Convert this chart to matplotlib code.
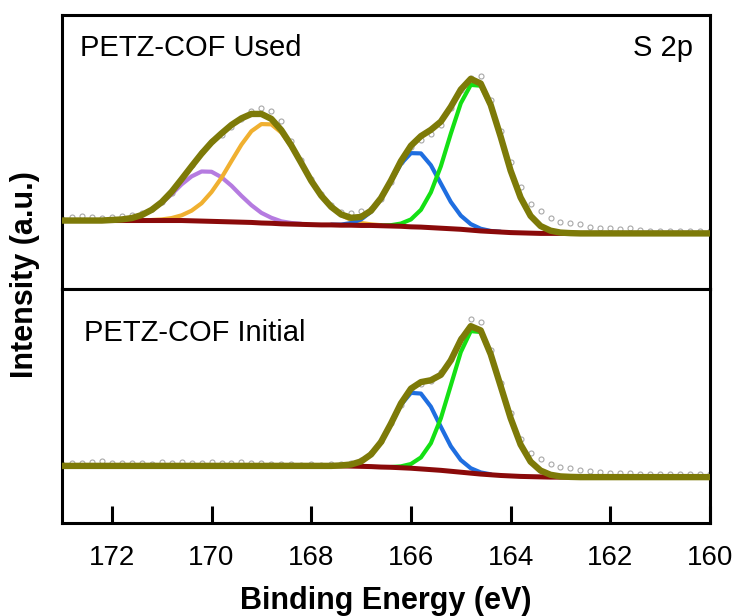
import numpy as np
import matplotlib
matplotlib.use("Agg")
import matplotlib.pyplot as plt

plt.rcParams['font.family'] = ['Liberation Sans', 'DejaVu Sans']

# energy grid of the scans (eV), 0.2 eV step
energy = np.linspace(173.0, 160.0, 66)

# ---- PETZ-COF Used ----
used_raw = [0.255, 0.262, 0.266, 0.262, 0.260, 0.263, 0.266, 0.270, 0.276, 0.293,
            0.318, 0.352, 0.398, 0.452, 0.500, 0.540, 0.562, 0.590, 0.622, 0.648,
            0.662, 0.650, 0.612, 0.540, 0.470, 0.400, 0.345, 0.305, 0.282, 0.278,
            0.285, 0.292, 0.330, 0.392, 0.462, 0.518, 0.545, 0.565, 0.600, 0.660,
            0.725, 0.772, 0.776, 0.690, 0.575, 0.462, 0.372, 0.312, 0.284, 0.258,
            0.244, 0.240, 0.236, 0.226, 0.222, 0.222, 0.220, 0.221, 0.214, 0.212,
            0.213, 0.210, 0.212, 0.211, 0.213, 0.212]
used_bg = ([0.250] * 13 +
           [0.249, 0.248, 0.247, 0.246, 0.245, 0.244, 0.243, 0.241, 0.240, 0.238,
            0.237, 0.236, 0.235, 0.234, 0.234, 0.233, 0.233, 0.232, 0.232, 0.231,
            0.230, 0.229, 0.227, 0.226, 0.224, 0.222, 0.220, 0.218, 0.215, 0.212,
            0.210, 0.208, 0.206, 0.205, 0.204, 0.203] +
           [0.203] * 17)
used_env = ([0.250, 0.250, 0.250, 0.250, 0.250, 0.252, 0.254, 0.259, 0.270, 0.289,
             0.317, 0.355, 0.401, 0.448, 0.494, 0.535, 0.568, 0.599, 0.623, 0.639,
             0.639, 0.621, 0.580, 0.524, 0.460, 0.395, 0.341, 0.300, 0.272, 0.260,
             0.263, 0.286, 0.332, 0.396, 0.467, 0.523, 0.558, 0.581, 0.611, 0.665,
             0.728, 0.767, 0.750, 0.672, 0.556, 0.432, 0.334, 0.267, 0.230, 0.213,
             0.206, 0.204] +
            [0.203] * 14)

used_purple_e = np.linspace(172.0, 168.2, 20)
used_purple = [0.252, 0.254, 0.259, 0.270, 0.287, 0.313, 0.346, 0.382, 0.411, 0.429,
               0.428, 0.408, 0.377, 0.340, 0.306, 0.278, 0.260, 0.247, 0.241, 0.238]
used_orange_e = np.linspace(171.2, 166.6, 24)
used_orange = [0.252, 0.254, 0.259, 0.269, 0.286, 0.313, 0.354, 0.406, 0.467, 0.527,
               0.576, 0.602, 0.601, 0.571, 0.520, 0.458, 0.395, 0.341, 0.299, 0.270,
               0.252, 0.241, 0.236, 0.233]
used_blue_e = np.linspace(167.6, 164.2, 18)
used_blue = [0.235, 0.235, 0.241, 0.254, 0.282, 0.329, 0.393, 0.457, 0.496, 0.495,
             0.452, 0.385, 0.318, 0.268, 0.237, 0.220, 0.212, 0.209]
used_green_e = np.linspace(166.6, 162.8, 20)
used_green = [0.232, 0.233, 0.239, 0.254, 0.289, 0.353, 0.448, 0.567, 0.678, 0.745,
              0.742, 0.670, 0.555, 0.432, 0.334, 0.267, 0.230, 0.213, 0.206, 0.204]

# ---- PETZ-COF Initial ----
init_raw = [0.250, 0.256, 0.258, 0.262, 0.265, 0.258, 0.256, 0.255, 0.258, 0.254,
            0.260, 0.256, 0.262, 0.257, 0.255, 0.262, 0.258, 0.256, 0.260, 0.257,
            0.255, 0.252, 0.250, 0.251, 0.249, 0.250, 0.248, 0.250, 0.252, 0.256,
            0.270, 0.300, 0.352, 0.428, 0.505, 0.566, 0.596, 0.605, 0.645, 0.700,
            0.790, 0.870, 0.858, 0.740, 0.600, 0.468, 0.360, 0.300, 0.272, 0.252,
            0.240, 0.233, 0.226, 0.222, 0.218, 0.214, 0.212, 0.213, 0.210, 0.211,
            0.209, 0.210, 0.208, 0.209, 0.210, 0.208]
init_bg = ([0.244] * 29 +
           [0.243, 0.242, 0.241, 0.239, 0.238, 0.236, 0.234, 0.231, 0.228, 0.225,
            0.221, 0.217, 0.213, 0.209, 0.206, 0.203, 0.201, 0.199, 0.198, 0.197] +
           [0.196] * 17)
init_env = ([0.244] * 28 +
            [0.246, 0.250, 0.263, 0.293, 0.346, 0.425, 0.511, 0.574, 0.602, 0.610,
             0.633, 0.695, 0.782, 0.841, 0.823, 0.721, 0.585, 0.448, 0.335, 0.262,
             0.224, 0.206, 0.199, 0.197] +
            [0.196] * 14)

init_blue_e = np.linspace(167.4, 164.4, 16)
init_blue = [0.246, 0.250, 0.263, 0.293, 0.346, 0.424, 0.505, 0.556, 0.553, 0.497,
             0.411, 0.328, 0.269, 0.234, 0.216, 0.208]
init_green_e = np.linspace(166.4, 162.8, 19)
init_green = [0.239, 0.242, 0.252, 0.280, 0.341, 0.447, 0.588, 0.730, 0.820, 0.816,
              0.719, 0.585, 0.448, 0.335, 0.262, 0.224, 0.206, 0.199, 0.197]

xticks = [172, 170, 168, 166, 164, 162, 160]

c_env = '#7d7a08'
c_bg = '#8a0a0a'
c_purple = '#b57be0'
c_orange = '#f0b030'
c_blue = '#1f6ee0'
c_green = '#14e014'
c_raw = '#a8a8a8'


fig = plt.figure(figsize=(7.37, 6.16), dpi=100)
ax_top = fig.add_axes([0.0841, 0.5308, 0.8793, 0.4448])
ax_bot = fig.add_axes([0.0841, 0.1510, 0.8793, 0.3799])


def draw_panel(ax, raw, bg, env, comps):
    ax.plot(energy, raw, 'o', ms=3.6, mfc='none', mec=c_raw, mew=0.8, zorder=1)
    for e, vals, col in comps:
        ax.plot(e, vals, color=col, lw=3.0, solid_capstyle='round',
                solid_joinstyle='round', zorder=2)
    ax.plot(energy, bg, color=c_bg, lw=3.6, solid_joinstyle='round', zorder=3)
    ax.plot(energy, env, color=c_env, lw=4.6, solid_capstyle='round',
            solid_joinstyle='round', zorder=4)
    ax.set_xlim(173, 160)
    ax.set_ylim(0, 1)
    ax.set_yticks([])
    for sp in ax.spines.values():
        sp.set_linewidth(2.2)


draw_panel(ax_top, used_raw, used_bg, used_env,
           [(used_purple_e, used_purple, c_purple),
            (used_orange_e, used_orange, c_orange),
            (used_blue_e, used_blue, c_blue),
            (used_green_e, used_green, c_green)])
draw_panel(ax_bot, init_raw, init_bg, init_env,
           [(init_blue_e, init_blue, c_blue),
            (init_green_e, init_green, c_green)])

ax_top.set_xticks([])
ax_bot.set_xticks(xticks)
ax_bot.tick_params(axis='x', direction='in', length=12, width=2.2,
                   labelsize=20, pad=16)

ax_top.text(0.028, 0.88, 'PETZ-COF Used', transform=ax_top.transAxes,
            fontsize=21, va='center', ha='left')
ax_top.text(0.974, 0.88, 'S 2p', transform=ax_top.transAxes,
            fontsize=21, va='center', ha='right')
ax_bot.text(0.034, 0.81, 'PETZ-COF Initial', transform=ax_bot.transAxes,
            fontsize=21, va='center', ha='left')

ax_bot.set_xlabel('Binding Energy (eV)', fontsize=22, fontweight='bold', labelpad=11)
fig.text(0.034, 0.554, 'Intensity (a.u.)', rotation=90, fontsize=22,
         fontweight='bold', ha='center', va='center')

fig.savefig('out.png', dpi=100)
